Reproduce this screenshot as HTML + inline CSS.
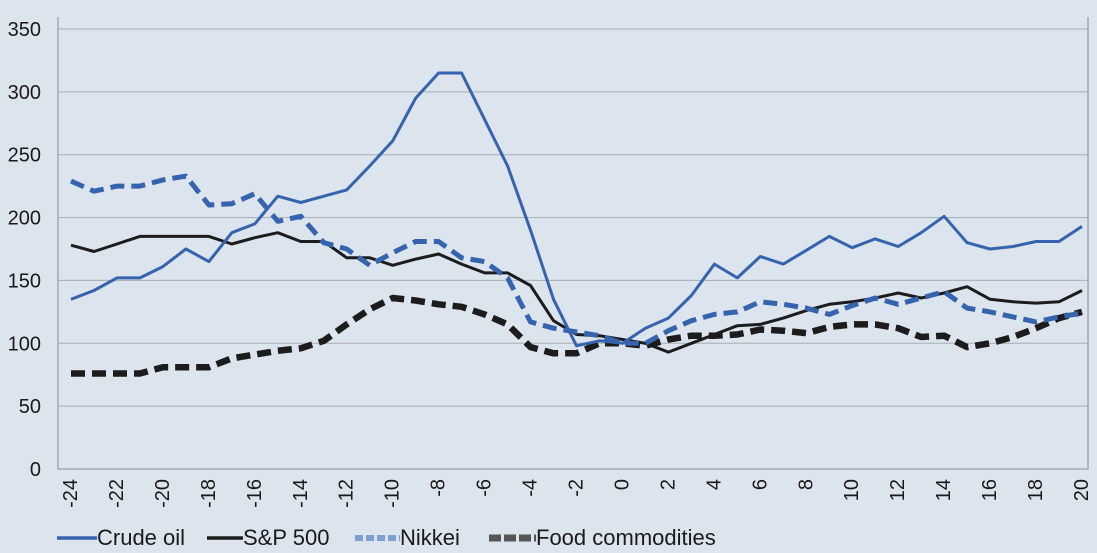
<!DOCTYPE html>
<html><head><meta charset="utf-8"><style>
html,body{margin:0;padding:0;background:#dce4ee;}
svg{display:block;font-family:"Liberation Sans",Arial,sans-serif;}
</style></head><body>
<svg id="chart" width="1097" height="553" viewBox="0 0 1097 553" xmlns="http://www.w3.org/2000/svg">
<rect width="1097" height="553" fill="#dce4ee"/>
<g id="grid"></g><g id="axes"></g><g id="series"></g><g id="legend"></g>
</svg>
<script>
const months = [];
for (let m = -24; m <= 20; m++) months.push(m);
const yTicks = [0,50,100,150,200,250,300,350];
const xTicks = [-24,-22,-20,-18,-16,-14,-12,-10,-8,-6,-4,-2,0,2,4,6,8,10,12,14,16,18,20];
const crudeOil = [135,142,152,152,161,175,165,188,195,217,212,217,222,241,261,295,315,315,278,241,190,135,98,102,100,112,120,138,163,152,169,163,174,185,176,183,177,188,201,180,175,177,181,181,193];
const sp500 = [178,173,179,185,185,185,185,179,184,188,181,181,168,168,162,167,171,163,156,156,146,118,107,106,103,100,93,100,107,114,115,120,126,131,133,136,140,136,140,145,135,133,132,133,142];
const nikkei = [229,221,225,225,230,233,210,211,219,197,201,180,175,162,172,181,181,168,165,152,117,112,109,106,100,100,110,118,123,125,133,131,128,123,130,136,131,136,141,128,125,121,117,121,124];
const food = [76,76,76,76,81,81,81,88,91,94,96,102,115,127,136,134,131,129,123,115,97,92,92,100,100,98,103,106,106,107,111,110,108,113,115,115,112,105,106,97,100,105,112,120,125];

const NS="http://www.w3.org/2000/svg";
const X0=58,X1=1088,Y0=469,Y1=29;
const xs = m => 71 + (m+24)*(1082-71)/44;
const ys = v => Y0 - v*(Y0-Y1)/350;
function mk(tag,attrs,parent){const e=document.createElementNS(NS,tag);for(const k in attrs)e.setAttribute(k,attrs[k]);parent.appendChild(e);return e;}
const grid=document.getElementById('grid'),axes=document.getElementById('axes'),ser=document.getElementById('series'),leg=document.getElementById('legend');
yTicks.forEach(v=>{
  if(v>0){const l=mk('line',{x1:X0,x2:X1,y1:ys(v),y2:ys(v),stroke:'#a9aeb4','stroke-width':1},grid);
  
  }
  const t=mk('text',{x:41,y:ys(v)+7,'text-anchor':'end','font-size':20,fill:'#1a1a1a'},axes);
  t.textContent=v;
  
  
});
const ax=mk('path',{d:`M${X0} ${Y1-12}V${Y0}H${X1}V${Y1-12}`,stroke:'#9a9fa6','stroke-width':1.3,fill:'none'},axes);


xTicks.forEach(m=>{
  const x=xs(m)+6;
  const t=mk('text',{x:x,y:479,transform:`rotate(-90 ${x} 479)`,'text-anchor':'end','font-size':20,fill:'#1a1a1a'},axes);
  t.textContent=m;
  
  
});
function line(data,stroke,w,dash,name){
  const d=data.map((v,i)=>(i?'L':'M')+xs(months[i]).toFixed(1)+' '+ys(v).toFixed(1)).join('');
  const p=mk('path',{d:d,stroke:stroke,'stroke-width':w,fill:'none','stroke-linejoin':'round'},ser);
  if(dash)p.setAttribute('stroke-dasharray',dash);
  
  
}
line(food,'#1c1c1c',6.5,'14 7','food-commodities-line');
line(sp500,'#1c1c1c',3,null,'sp500-line');
line(nikkei,'#3563ad',5,'14 7','nikkei-line');
line(crudeOil,'#3563ad',3,null,'crude-oil-line');
const items=[['Crude oil','#3563ad',3.5,null,57,97],['S&P 500','#1c1c1c',3.5,null,207,243],['Nikkei','#7f9fd0',6,'8 3',355,400],['Food commodities','#555',7,'12 3',489,536]];
items.forEach(([lab,c,w,dash,x,tx])=>{
  const g=mk('g',{},leg);
  
  
  const l=mk('line',{x1:x,x2:tx,y1:538,y2:538,stroke:c,'stroke-width':w},g);
  if(dash)l.setAttribute('stroke-dasharray',dash);
  const t=mk('text',{x:tx,y:545,'font-size':22,fill:'#1a1a1a'},g);
  t.textContent=lab;
});
</script>
</body></html>
